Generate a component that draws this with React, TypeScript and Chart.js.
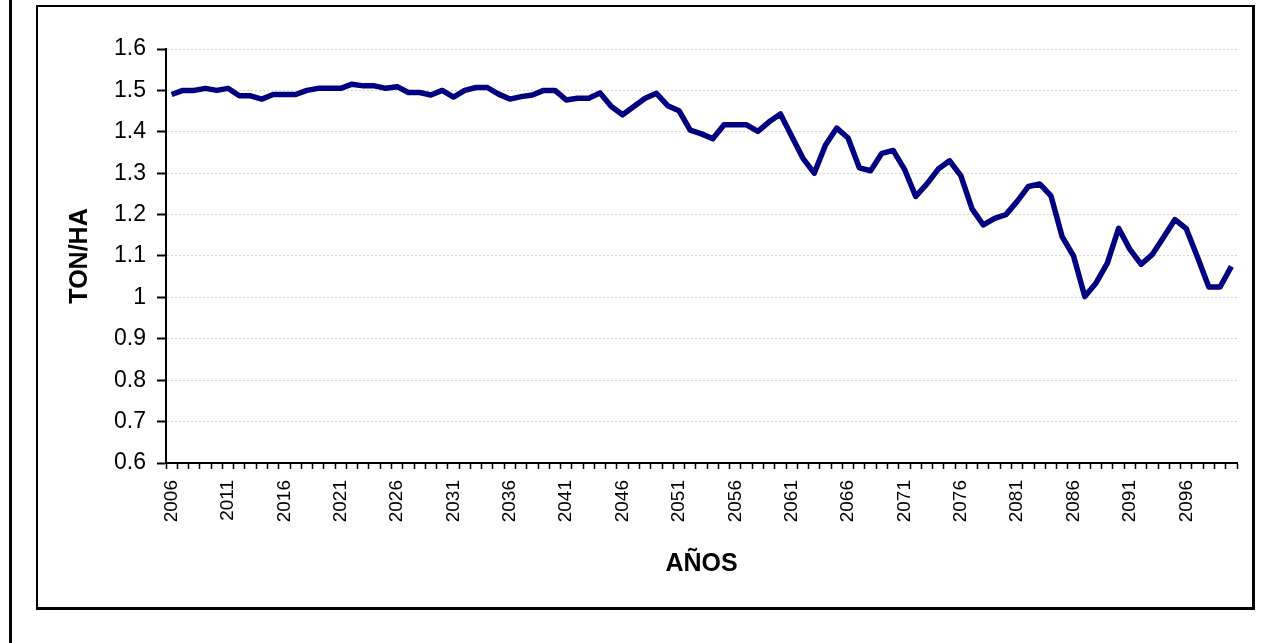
import React, { useEffect, useRef } from "react";
import { Chart, registerables } from "chart.js";

Chart.register(...registerables);

const years: string[] = [];
for (let y = 2006; y <= 2100; y++) years.push(String(y));

const yieldValues: number[] = [
  1.49, 1.5, 1.5, 1.505, 1.5, 1.505, 1.487, 1.487, 1.479, 1.49,
  1.49, 1.49, 1.5, 1.505, 1.505, 1.505, 1.515, 1.511, 1.511, 1.505,
  1.509, 1.495, 1.495, 1.489, 1.5, 1.484, 1.5, 1.507, 1.507, 1.491,
  1.479, 1.485, 1.489, 1.5, 1.5, 1.477, 1.481, 1.481, 1.494, 1.461,
  1.441, 1.461, 1.481, 1.493, 1.463, 1.451, 1.404, 1.395, 1.383, 1.417,
  1.417, 1.417, 1.401, 1.424, 1.443, 1.389, 1.336, 1.3, 1.368, 1.409,
  1.385, 1.313, 1.306, 1.348, 1.355, 1.31, 1.244, 1.274, 1.31, 1.33,
  1.294, 1.214, 1.175, 1.191, 1.2, 1.232, 1.268, 1.274, 1.245, 1.146,
  1.1, 1.002, 1.035, 1.083, 1.167, 1.116, 1.08, 1.104, 1.146, 1.188,
  1.166, 1.097, 1.025, 1.025, 1.075,
];

const yMin = 0.6;
const yMax = 1.6;
const yStep = 0.1;
const xTitle = "AÑOS";
const yTitle = "TON/HA";

export default function App() {
  const canvasRef = useRef<HTMLCanvasElement | null>(null);

  useEffect(() => {
    const canvas = canvasRef.current;
    if (!canvas) return;
    const chart = new Chart(canvas, {
      type: "line",
      data: {
        labels: years,
        datasets: [
          {
            data: yieldValues,
            borderColor: "#000080",
            borderWidth: 5.5,
            pointRadius: 0,
            tension: 0,
            fill: false,
            borderJoinStyle: "round",
            borderCapStyle: "butt",
          },
        ],
      },
      options: {
        animation: false,
        responsive: false,
        devicePixelRatio: 1,
        layout: { autoPadding: false, padding: { top: 42, right: 15, bottom: 0, left: 0 } },
        plugins: {
          legend: { display: false },
          tooltip: { enabled: false },
        },
        scales: {
          x: {
            type: "category",
            offset: true,
            grid: {
              display: true,
              offset: true,
              drawOnChartArea: false,
              drawTicks: true,
              tickLength: 6,
              tickColor: "#000",
              tickWidth: 1.5,
            },
            border: { display: true, color: "#000", width: 2 },
            ticks: {
              autoSkip: false,
              maxRotation: 90,
              minRotation: 90,
              padding: 11,
              color: "#000",
              font: { family: "'Liberation Sans', Arial, sans-serif", size: 19 },
              callback: (_v: any, i: number) => (i % 5 === 0 ? years[i] : ""),
            },
            title: {
              display: true,
              text: xTitle,
              color: "#000",
              font: { family: "'Liberation Sans', Arial, sans-serif", size: 25, weight: "bold" },
              padding: { top: 0, bottom: 27 },
            },
            afterFit: (scale: any) => {
              scale.height = 143;
              scale.paddingLeft = 0;
              scale.paddingRight = 0;
            },
          },
          y: {
            min: yMin,
            max: yMax,
            grid: {
              display: true,
              color: "#d4d4d4",
              lineWidth: 1,
              drawTicks: true,
              tickLength: 9,
              tickColor: "#000",
              tickWidth: 2,
            },
            border: { display: true, color: "#000", width: 2, dash: [2, 2] },
            ticks: {
              stepSize: yStep,
              padding: 11,
              color: "#000",
              font: { family: "'Liberation Sans', Arial, sans-serif", size: 23 },
              callback: (v: any) => String(Math.round(Number(v) * 10) / 10),
            },
            title: {
              display: true,
              text: yTitle,
              color: "#000",
              font: { family: "'Liberation Sans', Arial, sans-serif", size: 25, weight: "bold" },
              padding: { top: 27, bottom: 0 },
            },
            afterFit: (scale: any) => {
              scale.width = 128;
              scale.paddingTop = 0;
              scale.paddingBottom = 0;
            },
          },
        },
      },
    } as any);
    return () => chart.destroy();
  }, []);

  return (
    <div
      style={{
        position: "absolute",
        left: 0,
        top: 0,
        width: 1282,
        height: 643,
        background: "#fff",
        overflow: "hidden",
      }}
    >
      <div
        style={{
          position: "absolute",
          left: 9,
          top: 0,
          width: 3,
          height: 643,
          background: "#000",
        }}
      />
      <div
        style={{
          position: "absolute",
          left: 36,
          top: 5,
          width: 1219,
          height: 605,
          boxSizing: "border-box",
          borderLeft: "2px solid #000",
          borderTop: "2px solid #000",
          borderRight: "3px solid #000",
          borderBottom: "3px solid #000",
        }}
      />
      <canvas
        ref={canvasRef}
        width={1214}
        height={599}
        style={{ position: "absolute", left: 38, top: 7, width: 1214, height: 599 }}
      />
    </div>
  );
}
